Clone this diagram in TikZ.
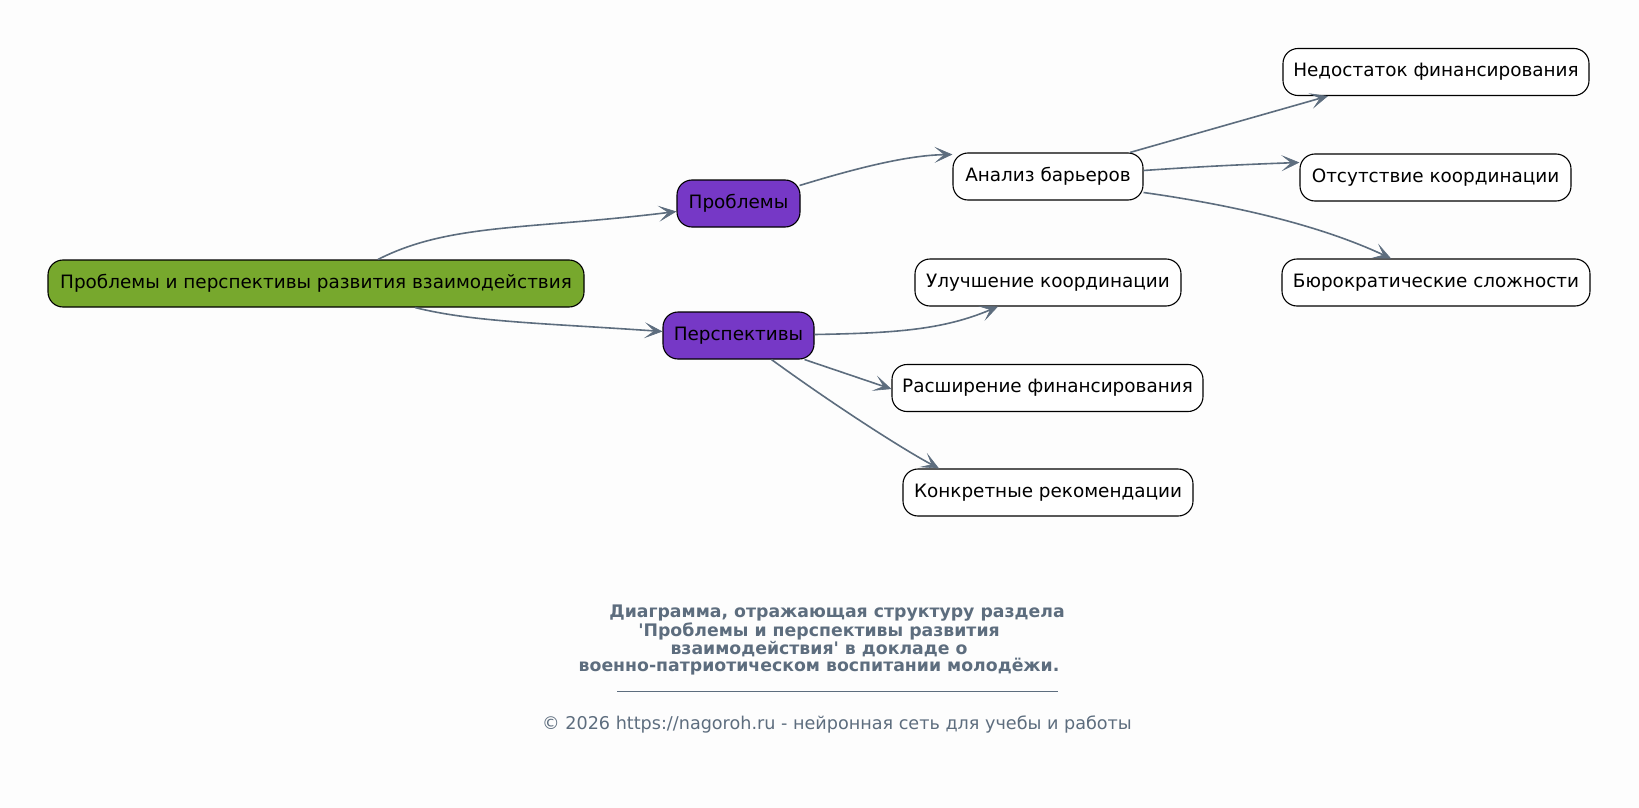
\documentclass[tikz,border=0pt]{standalone}
\usepackage{fontspec}
\setmainfont{DejaVu Sans}
\usetikzlibrary{arrows.meta}
\definecolor{rootgreen}{HTML}{77A82D}
\definecolor{midpurple}{HTML}{7638C6}
\definecolor{edgecol}{HTML}{5D6D7E}
\definecolor{bgcol}{HTML}{FDFDFD}
\tikzset{
  box/.style={draw=black, line width=1.1pt, rounded corners=15pt, minimum height=47pt,
    inner xsep=6pt, inner ysep=0pt, font=\fontsize{18.4}{22}\selectfont, text=black, fill=white},
  rootbox/.style={box, fill=rootgreen},
  midbox/.style={box, fill=midpurple},
  conn/.style={draw=edgecol, line width=1.6pt,
    -{Stealth[length=18pt,width=16pt,inset=9.5pt,line width=0.6pt]}},
  captxt/.style={text=edgecol, font=\fontsize{17.3}{19}\selectfont\bfseries, inner sep=0pt},
  foottxt/.style={text=edgecol, font=\fontsize{17.6}{20}\selectfont, inner sep=0pt}
}
\begin{document}
\begin{tikzpicture}[x=1pt,y=-1pt]
\fill[bgcol] (0,0) rectangle (1639,808);
\useasboundingbox (0,0) rectangle (1639,808);

\node[rootbox, minimum width=536pt] (root) at (316,283.5) {Проблемы и перспективы развития взаимодействия};
\node[midbox, minimum width=123pt] (prob) at (738.5,203.5) {Проблемы};
\node[midbox, minimum width=151pt] (persp) at (738.5,335.5) {Перспективы};

\node[box, minimum width=190pt] (anal) at (1048,176.5) {Анализ барьеров};
\node[box, minimum width=266pt] (impr) at (1048,282.5) {Улучшение координации};
\node[box, minimum width=311pt] (expa) at (1047.5,388) {Расширение финансирования};
\node[box, minimum width=290pt] (reco) at (1048,492.5) {Конкретные рекомендации};

\node[box, minimum width=306pt] (lack) at (1436,72) {Недостаток финансирования};
\node[box, minimum width=271pt] (abse) at (1435.5,177.5) {Отсутствие координации};
\node[box, minimum width=308pt] (bure) at (1436,282.5) {Бюрократические сложности};

\draw[conn] ([xshift=62pt]root.north) .. controls +(27:80pt) and +(187:150pt) .. ([yshift=-8pt]prob.west);
\draw[conn] ([xshift=99pt]root.south) .. controls +(-14:60pt) and +(176:120pt) .. ([yshift=4pt]persp.west);
\draw[conn] ([xshift=-1pt,yshift=18pt]prob.east) .. controls +(17:60pt) and +(181:45pt) .. ([yshift=22pt]anal.west);
\draw[conn] ([yshift=1pt]persp.east) .. controls +(1:80pt) and +(203:60pt) .. ([xshift=-50pt]impr.south);
\draw[conn] ([xshift=66pt]persp.south) -- ([yshift=-1pt]expa.west);
\draw[conn] ([xshift=33pt]persp.south) .. controls +(-36:80pt) and +(152:40pt) .. ([xshift=-109pt]reco.north);
\draw[conn] ([xshift=82pt]anal.north) -- ([xshift=-108pt]lack.south);
\draw[conn] ([yshift=6pt]anal.east) .. controls +(4:60pt) and +(182:50pt) .. ([yshift=15pt]abse.west);
\draw[conn] ([yshift=-16pt]anal.east) .. controls +(-8:120pt) and +(155:60pt) .. ([xshift=-45pt]bure.north);

\node[captxt] (cap1) at (837,613.5) {Диаграмма, отражающая структуру раздела};
\node[captxt] (cap2) at (819,631.3) {\textquotesingle Проблемы и перспективы развития};
\node[captxt] (cap3) at (819,649) {взаимодействия\textquotesingle{} в докладе о};
\node[captxt] (cap4) at (819,666.8) {военно-патриотическом воспитании молодёжи.};
\coordinate (ruleA) at (617,691);
\coordinate (ruleB) at (1058,691);
\draw[edgecol, line width=0.8pt] (ruleA) -- (ruleB);
\node[foottxt] (foot) at (837,724) {© 2026 https://nagoroh.ru - нейронная сеть для учебы и работы};
\end{tikzpicture}
\end{document}
